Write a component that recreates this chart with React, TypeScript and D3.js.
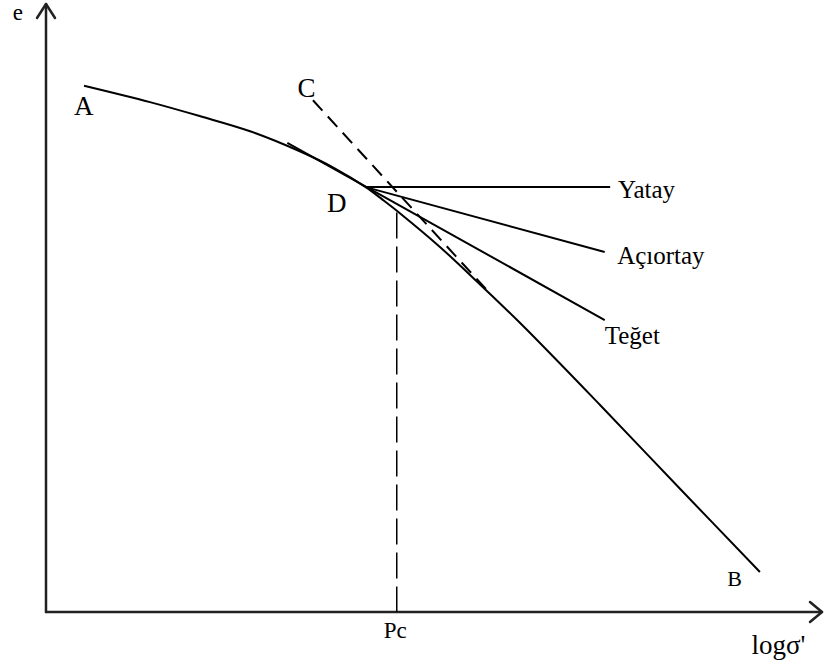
import React from "react";
import * as d3 from "d3";

// e - log σ' curve (Casagrande construction), abstract units 0..100
const curveX = [4.9, 13.4, 19.8, 26.3, 32.7, 37.2, 41.2, 43.4, 45.6, 50.8, 55.9, 61.1, 71.4, 81.7, 92.0];
const curveE = [86.7, 84.0, 81.7, 79.2, 75.9, 73.1, 70.0, 67.9, 65.7, 60.1, 54.0, 47.6, 34.1, 20.3, 6.6];

const pointD = [41.2, 70.0];
const tangentLine = [[31.1, 77.3], [72.0, 48.1]];
const horizontalLine = [pointD, [72.7, 70.0]];
const bisectorLine = [pointD, [72.0, 59.3]];
const dashedCLine = [[34.4, 84.3], [57.2, 52.5]];
const pcX = 45.2;
const pcTop = 65.8;

const labels = [
  { text: "e", x: -4.3, y: 97.6, size: 23, anchor: "start" },
  { text: "A", x: 3.6, y: 81.9, size: 27, anchor: "start" },
  { text: "C", x: 32.4, y: 84.8, size: 27, anchor: "start" },
  { text: "D", x: 36.2, y: 65.9, size: 27, anchor: "start" },
  { text: "Yatay", x: 73.7, y: 68.2, size: 25, anchor: "start" },
  { text: "Açıortay", x: 73.6, y: 57.3, size: 25, anchor: "start" },
  { text: "Teğet", x: 72.0, y: 44.2, size: 25, anchor: "start" },
  { text: "B", x: 87.8, y: 4.3, size: 22, anchor: "start" },
  { text: "Pc", x: 45.0, y: -4.3, size: 23, anchor: "middle" },
  { text: "logσ'", x: 90.9, y: -6.9, size: 27, anchor: "start" },
];

const W = 824;
const H = 664;

export default function App() {
  const x = d3.scaleLinear().domain([0, 100]).range([46, 822]);
  const y = d3.scaleLinear().domain([0, 100]).range([612, 5]);

  const curvePts: [number, number][] = curveX.map((v, i) => [x(v), y(curveE[i])]);
  const curvePath = d3.line().curve(d3.curveCatmullRom.alpha(0.5))(curvePts) || "";
  const seg = (p: number[][]) => d3.line()(p.map((q) => [x(q[0]), y(q[1])] as [number, number])) || "";

  const x0 = x(0), y0 = y(0), xEnd = x(100), yEnd = y(100);

  return (
    <svg width={W} height={H} style={{ position: "absolute", left: 0, top: 0, background: "#fff" }}
      fontFamily="'Liberation Serif', 'Times New Roman', serif">
      {/* axes */}
      <g stroke="#222" strokeWidth={2.5} fill="none" strokeLinecap="round" strokeLinejoin="round">
        <line x1={x0} y1={y0} x2={xEnd} y2={y0} />
        <line x1={x0} y1={y0} x2={x0} y2={yEnd - 1} />
        <path d={`M${x0 - 9},${yEnd + 13} L${x0},${yEnd - 1} L${x0 + 9},${yEnd + 13}`} />
        <path d={`M${xEnd - 12},${y0 - 10} L${xEnd},${y0} L${xEnd - 12},${y0 + 10}`} />
      </g>
      {/* curve and construction */}
      <g stroke="#000" fill="none" strokeWidth={2}>
        <path d={curvePath} />
        <path d={seg(tangentLine)} />
        <path d={seg(horizontalLine)} />
        <path d={seg(bisectorLine)} />
        <path d={seg(dashedCLine)} strokeDasharray="14 8" />
        <line x1={x(pcX)} y1={y(pcTop)} x2={x(pcX)} y2={y0} strokeWidth={1.5} strokeDasharray="26 8" />
      </g>
      {labels.map((l) => (
        <text key={l.text} x={x(l.x)} y={y(l.y)} fontSize={l.size} textAnchor={l.anchor} fill="#000">
          {l.text}
        </text>
      ))}
    </svg>
  );
}
